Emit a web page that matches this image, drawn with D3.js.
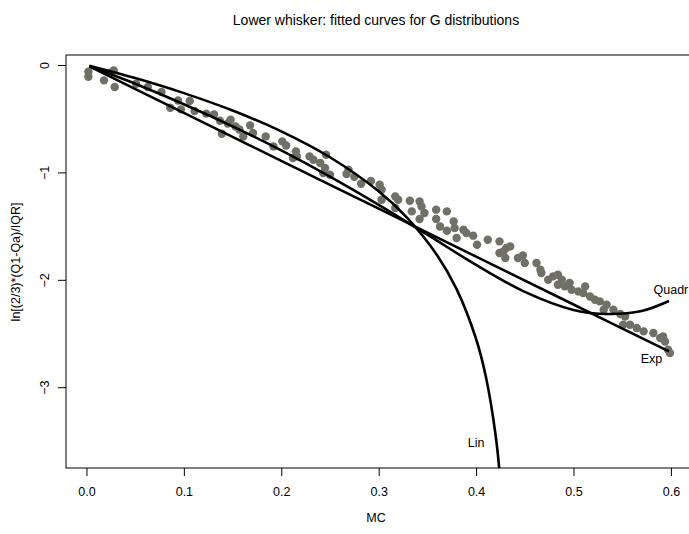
<!DOCTYPE html>
<html>
<head>
<meta charset="utf-8">
<script src="https://cdn.jsdelivr.net/npm/d3@7"></script>
<style>
  body { margin: 0; background: #fff; }
  text { font-family: "Liberation Sans", Arial, sans-serif; }
</style>
</head>
<body>
<svg id="chart"></svg>
<script>
// observed (MC, log whisker) pairs
const mc = [
  0.002, 0.002, 0.018, 0.028, 0.025, 0.029, 0.051, 0.063, 0.077, 0.086,
  0.094, 0.106, 0.097, 0.111, 0.123, 0.131, 0.137, 0.139, 0.148, 0.153,
  0.161, 0.168, 0.171, 0.184, 0.192, 0.201, 0.205, 0.215, 0.216, 0.212,
  0.229, 0.233, 0.240, 0.246, 0.245, 0.250, 0.243, 0.269, 0.267, 0.282,
  0.301, 0.303, 0.303, 0.317, 0.320, 0.317, 0.332, 0.334, 0.342, 0.344,
  0.347, 0.342, 0.359, 0.359, 0.370, 0.363, 0.370, 0.377, 0.378, 0.380,
  0.387, 0.390, 0.397, 0.401, 0.412, 0.424, 0.424, 0.431, 0.435, 0.428,
  0.430, 0.443, 0.448, 0.450, 0.462, 0.466, 0.467, 0.474, 0.479, 0.484,
  0.488, 0.484, 0.491, 0.496, 0.498, 0.505, 0.512, 0.510, 0.517, 0.522,
  0.527, 0.534, 0.531, 0.541, 0.548, 0.553, 0.551, 0.558, 0.565, 0.572,
  0.582, 0.589, 0.592, 0.594, 0.597, 0.599, 0.145, 0.157, 0.275, 0.292
];
const logWhisker = [
  -0.062, -0.109, -0.143, -0.050, -0.072, -0.205, -0.174, -0.205, -0.251, -0.398,
  -0.330, -0.335, -0.413, -0.428, -0.453, -0.460, -0.519, -0.640, -0.509, -0.572,
  -0.665, -0.562, -0.633, -0.665, -0.758, -0.711, -0.749, -0.804, -0.851, -0.866,
  -0.851, -0.882, -0.912, -0.835, -0.959, -1.021, -1.006, -0.975, -1.015, -1.105,
  -1.115, -1.161, -1.254, -1.223, -1.254, -1.331, -1.264, -1.363, -1.270, -1.317,
  -1.378, -1.434, -1.347, -1.434, -1.363, -1.503, -1.543, -1.456, -1.518, -1.611,
  -1.534, -1.564, -1.589, -1.673, -1.627, -1.642, -1.750, -1.704, -1.689, -1.736,
  -1.797, -1.797, -1.773, -1.844, -1.844, -1.906, -1.937, -1.999, -1.968, -1.953,
  -1.999, -2.046, -2.061, -2.030, -2.092, -2.108, -2.061, -2.123, -2.155, -2.185,
  -2.201, -2.232, -2.278, -2.278, -2.318, -2.341, -2.418, -2.418, -2.449, -2.480,
  -2.495, -2.542, -2.527, -2.574, -2.651, -2.682, -0.545, -0.600, -1.040, -1.080
];

// fitted curves
const linX = [0.003, 0.05, 0.1, 0.15, 0.2, 0.25, 0.3, 0.33, 0.36, 0.38, 0.4, 0.41, 0.42, 0.425, 0.43];
const linY = [-0.007, -0.122, -0.262, -0.424, -0.618, -0.859, -1.176, -1.430, -1.771, -2.087, -2.551, -2.901, -3.445, -3.893, -4.727];
const quadX = [0.003, 0.05, 0.1, 0.15, 0.2, 0.25, 0.3, 0.35, 0.4, 0.45, 0.5, 0.535, 0.57, 0.598];
const quadY = [-0.010, -0.175, -0.365, -0.571, -0.795, -1.039, -1.302, -1.580, -1.861, -2.112, -2.280, -2.318, -2.290, -2.197];
const expX = [0.003, 0.1, 0.2, 0.3, 0.4, 0.5, 0.598];
const expY = [-0.013, -0.446, -0.892, -1.338, -1.784, -2.230, -2.667];

const curveLabels = ["Lin", "Quadr", "Exp"];
const labelX = [0.4, 0.6, 0.58];
const labelY = [-3.52, -2.09, -2.73];

const xTicks = [0, 0.1, 0.2, 0.3, 0.4, 0.5, 0.6];
const yTicks = [0, -1, -2, -3];

const width = 689;
const height = 534;
const mLeft = 66, mTop = 55, mBottom = 468, mRight = 690;

const svg = d3.select("#chart").attr("width", width).attr("height", height);

const x = d3.scaleLinear().domain([-0.021, 0.6196]).range([mLeft, mRight]);
const y = d3.scaleLinear().domain([-3.752, 0.093]).range([mBottom, mTop]);

svg.append("defs").append("clipPath").attr("id", "plot")
  .append("rect")
  .attr("x", mLeft).attr("y", mTop)
  .attr("width", mRight - mLeft).attr("height", mBottom - mTop);

const plot = svg.append("g").attr("clip-path", "url(#plot)");

plot.selectAll("circle")
  .data(mc.map((d, i) => [d, logWhisker[i]]))
  .enter()
  .append("circle")
  .attr("cx", (d) => x(d[0]))
  .attr("cy", (d) => y(d[1]))
  .attr("r", 4.2)
  .attr("fill", "#707066");

const line = d3.line()
  .x((d) => x(d[0]))
  .y((d) => y(d[1]))
  .curve(d3.curveCatmullRom);

[[linX, linY], [quadX, quadY], [expX, expY]].forEach(([xs, ys]) => {
  plot.append("path")
    .datum(xs.map((d, i) => [d, ys[i]]))
    .attr("d", line)
    .attr("fill", "none")
    .attr("stroke", "#000")
    .attr("stroke-width", 2.6);
});

plot.selectAll("text.lab")
  .data(curveLabels)
  .enter()
  .append("text")
  .attr("class", "lab")
  .attr("x", (d, i) => x(labelX[i]))
  .attr("y", (d, i) => y(labelY[i]))
  .attr("dy", "0.35em")
  .attr("text-anchor", "middle")
  .attr("font-size", 12.5)
  .text((d) => d);

svg.append("rect")
  .attr("x", mLeft).attr("y", mTop)
  .attr("width", mRight - mLeft).attr("height", mBottom - mTop)
  .attr("fill", "none")
  .attr("stroke", "#000")
  .attr("stroke-width", 1);

const xAxis = svg.append("g")
  .attr("transform", `translate(0,${mBottom})`)
  .call(d3.axisBottom(x).tickValues(xTicks).tickFormat(d3.format(".1f"))
    .tickSize(8).tickSizeOuter(0).tickPadding(11));
xAxis.select(".domain").remove();
xAxis.selectAll("text").attr("font-size", 12.5).attr("font-family", null);

const yAxis = svg.append("g")
  .attr("transform", `translate(${mLeft},0)`)
  .call(d3.axisLeft(y).tickValues(yTicks).tickFormat(d3.format("d"))
    .tickSize(8).tickSizeOuter(0));
yAxis.select(".domain").remove();
yAxis.selectAll("text")
  .attr("transform", "rotate(-90)")
  .attr("x", 0)
  .attr("y", -17)
  .attr("dy", 0)
  .attr("text-anchor", "middle")
  .attr("font-size", 12.5)
  .attr("font-family", null);

svg.append("text")
  .attr("x", 376).attr("y", 25)
  .attr("text-anchor", "middle")
  .attr("font-size", 14)
  .text("Lower whisker: fitted curves for G distributions");

svg.append("text")
  .attr("x", 376).attr("y", 522)
  .attr("text-anchor", "middle")
  .attr("font-size", 12.5)
  .text("MC");

svg.append("text")
  .attr("transform", `translate(20,262) rotate(-90)`)
  .attr("text-anchor", "middle")
  .attr("font-size", 12.5)
  .text("ln[(2/3)*(Q1-Qa)/IQR]");
</script>
</body>
</html>
